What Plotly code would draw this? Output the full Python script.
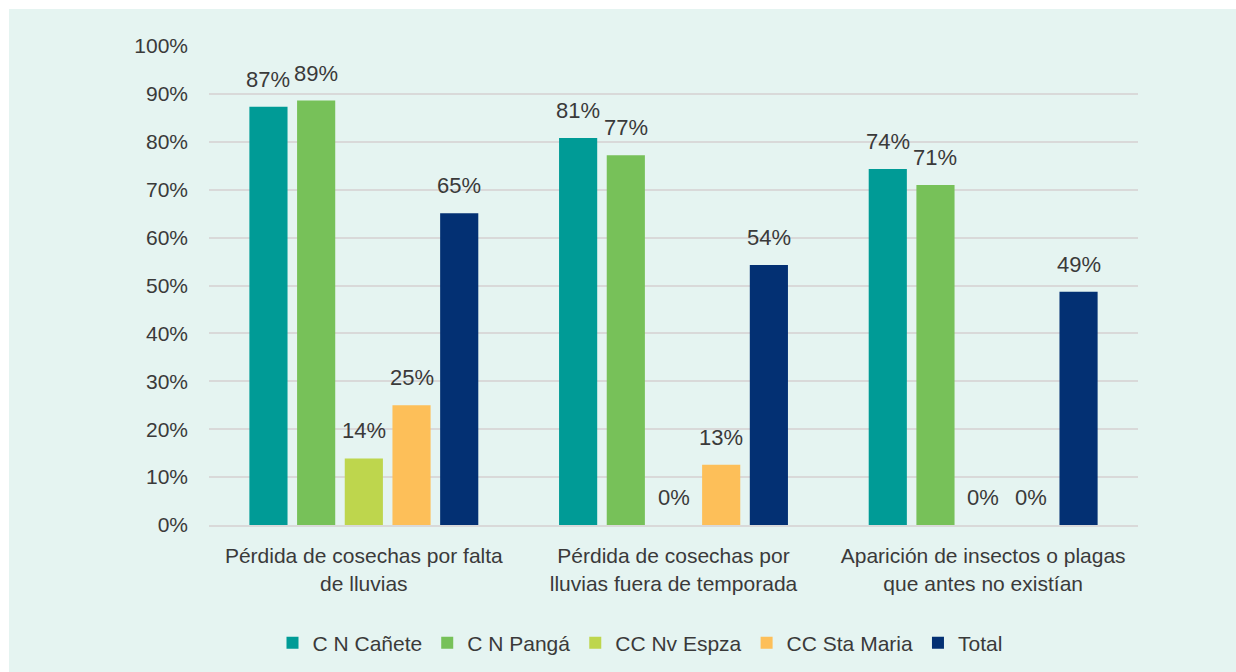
import plotly.graph_objects as go

categories = ["Pérdida de cosechas por falta<br>de lluvias",
              "Pérdida de cosechas por<br>lluvias fuera de temporada",
              "Aparición de insectos o plagas<br>que antes no existían"]
series_names = ["C N Cañete", "C N Pangá", "CC Nv Espza", "CC Sta Maria", "Total"]
values_canete = [0.873, 0.808, 0.743]
values_panga = [0.886, 0.772, 0.710]
values_espza = [0.139, 0.0, 0.0]
values_stamaria = [0.250, 0.126, 0.0]
values_total = [0.651, 0.543, 0.487]
colors = ["#009B96", "#77C159", "#BED64D", "#FDBF59", "#033073"]

all_values = [values_canete, values_panga, values_espza, values_stamaria, values_total]

W, H = 1236, 672
L, R, T, B = 209, 98, 46, 147
pw, ph = W - L - R, H - T - B

def px_x(px):
    return (px - L) / pw

def px_y(py):
    return (H - B - py) / ph

font_family = "Liberation Sans, Arial, sans-serif"
text_color = "#3A3A3A"
FS = 21
BARGAP, BARGROUPGAP = 0.23, 0.2

fig = go.Figure()
annotations = []
n = len(series_names)
slot = (1 - BARGAP) / n
for k, (name, vals, col) in enumerate(zip(series_names, all_values, colors)):
    fig.add_trace(go.Bar(
        x=list(range(len(categories))), y=vals, name=name, marker_color=col,
        marker_line_width=0, cliponaxis=False, hoverinfo="skip",
    ))
    off = -(1 - BARGAP) / 2 + slot * (k + 0.5)
    for i, v in enumerate(vals):
        annotations.append(dict(
            x=i + off, y=v, xref="x", yref="y", text=f"{round(v * 100):.0f}%",
            showarrow=False, yanchor="bottom", xanchor="center", yshift=13,
            font=dict(size=22, color=text_color, family=font_family),
        ))

fig.update_layout(
    width=W, height=H,
    margin=dict(l=L, r=R, t=T, b=B, autoexpand=False),
    paper_bgcolor="white",
    plot_bgcolor="rgba(0,0,0,0)",
    barmode="group", bargap=BARGAP, bargroupgap=BARGROUPGAP,
    font=dict(family=font_family, size=FS, color=text_color),
    showlegend=True,
    legend=dict(orientation="h", x=px_x(640), xanchor="center",
                y=px_y(643), yanchor="middle",
                font=dict(size=FS, color=text_color, family=font_family),
                bgcolor="rgba(0,0,0,0)", tracegroupgap=0),
    yaxis=dict(range=[0, 1], tickformat=".0%", dtick=0.1,
               showgrid=True, gridcolor="#D9D9D9", gridwidth=2,
               zeroline=False, showline=False, ticks="",
               ticklabelstandoff=20, automargin=False,
               tickfont=dict(size=FS, color=text_color, family=font_family)),
    xaxis=dict(showline=True, linecolor="#D9D9D9", linewidth=2, ticks="",
               tickmode="array", tickvals=list(range(len(categories))),
               ticktext=categories, range=[-0.5, len(categories) - 0.5],
               tickangle=0, automargin=False, ticklabelstandoff=11,
               tickfont=dict(size=FS, color=text_color, family=font_family)),
    annotations=annotations,
    shapes=[dict(type="rect", xref="paper", yref="paper", layer="below",
                 x0=px_x(9), x1=px_x(1236), y0=px_y(672), y1=px_y(9),
                 fillcolor="#E5F4F1", line=dict(width=0))],
)

fig.write_html("out.html", config={"displayModeBar": False},
               post_script="document.body.style.margin='0';")
